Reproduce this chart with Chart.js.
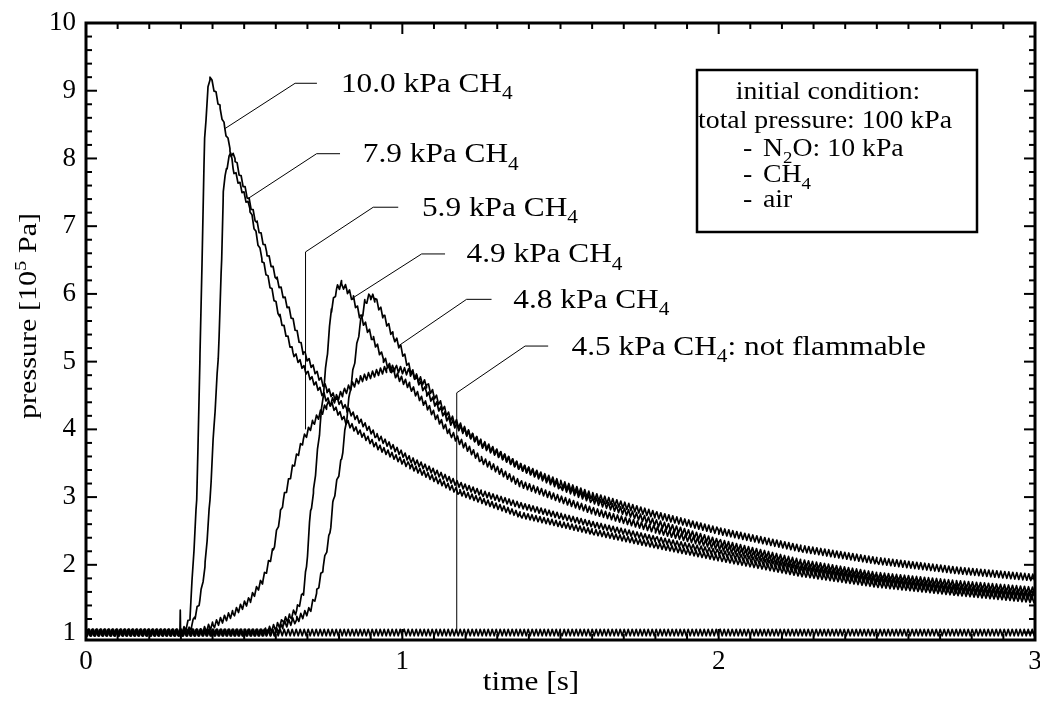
<!DOCTYPE html>
<html>
<head>
<meta charset="utf-8">
<script src="https://cdn.jsdelivr.net/npm/chart.js@4.4.1/dist/chart.umd.min.js"></script>
<style>
  html, body { margin: 0; padding: 0; background: #fff; }
</style>
</head>
<body>
<canvas id="pChart" width="1040" height="702"></canvas>
<script>
// pressure traces of N2O / CH4 / air mixtures, ignition near t = 0.3 s
const SERIF = '"Liberation Serif", "Times New Roman", Times, serif';
const SX = 1.16; // the original lettering is a bit wider than Times

const xTicks = [0, 1, 2, 3];
const yTicks = [1, 2, 3, 4, 5, 6, 7, 8, 9, 10];

// 10.0 kPa CH4 (spark spike at ~0.298 s)
const t100 = [0, 0.29, 0.297, 0.298, 0.299, 0.318, 0.329, 0.35, 0.36, 0.375, 0.385, 0.392, 0.408, 0.424, 0.439, 0.455, 0.465, 0.518, 0.556, 0.613, 0.654, 0.698, 0.762, 0.825, 0.92, 1.024, 1.182, 1.25, 1.372, 1.5, 1.6, 1.8, 2.0, 2.26, 2.5, 2.75, 3.0];
const p100 = [1.0, 1.0, 1.0, 1.33, 1.0, 1.08, 1.23, 2.96, 5.0, 8.3, 9.0, 9.2, 8.99, 8.74, 8.44, 8.15, 7.85, 7.26, 6.52, 5.66, 5.14, 4.84, 4.44, 4.10, 3.75, 3.46, 3.07, 2.95, 2.74, 2.6, 2.49, 2.29, 2.1, 1.87, 1.71, 1.59, 1.48];

// 7.9 kPa CH4
const t79 = [0, 0.32, 0.334, 0.344, 0.36, 0.376, 0.392, 0.404, 0.418, 0.429, 0.434, 0.444, 0.457, 0.471, 0.487, 0.513, 0.539, 0.571, 0.603, 0.645, 0.687, 0.761, 0.824, 0.919, 1.024, 1.182, 1.25, 1.372, 1.5, 1.6, 1.8, 2.0, 2.26, 2.5, 2.75, 3.0];
const p79 = [1.0, 1.0, 1.09, 1.23, 1.48, 1.97, 2.96, 4.0, 5.04, 6.52, 7.51, 7.85, 8.08, 8.0, 7.75, 7.41, 7.06, 6.62, 6.22, 5.73, 5.14, 4.59, 4.30, 3.90, 3.56, 3.18, 3.06, 2.88, 2.72, 2.6, 2.38, 2.18, 1.93, 1.76, 1.63, 1.53];

// 5.9 kPa CH4
const t59 = [0, 0.36, 0.402, 0.465, 0.518, 0.56, 0.592, 0.613, 0.624, 0.655, 0.687, 0.718, 0.761, 0.813, 0.866, 0.95, 0.977, 1.024, 1.077, 1.15, 1.25, 1.372, 1.5, 1.6, 1.8, 2.0, 2.26, 2.5, 2.75, 3.0];
const p59 = [1.0, 1.0, 1.11, 1.28, 1.48, 1.78, 2.22, 2.72, 2.96, 3.46, 3.85, 4.10, 4.35, 4.54, 4.74, 4.89, 4.90, 4.84, 4.66, 4.18, 3.78, 3.45, 3.16, 2.96, 2.62, 2.33, 2.03, 1.84, 1.72, 1.62];

// 4.9 kPa CH4
const t49 = [0, 0.56, 0.603, 0.624, 0.645, 0.666, 0.687, 0.697, 0.71, 0.719, 0.74, 0.761, 0.776, 0.792, 0.808, 0.824, 0.845, 0.866, 0.908, 0.94, 0.982, 1.024, 1.077, 1.15, 1.25, 1.372, 1.5, 1.6, 1.8, 2.0, 2.26, 2.5, 2.75, 3.0];
const p49 = [1.0, 1.0, 1.09, 1.16, 1.23, 1.33, 1.58, 1.97, 2.8, 3.06, 4.05, 5.04, 5.78, 6.07, 6.15, 6.07, 5.93, 5.68, 5.33, 5.04, 4.79, 4.64, 4.35, 3.95, 3.55, 3.2, 2.97, 2.8, 2.52, 2.27, 1.98, 1.8, 1.67, 1.57];

// 4.8 kPa CH4
const t48 = [0, 0.6, 0.623, 0.666, 0.708, 0.729, 0.75, 0.771, 0.782, 0.808, 0.834, 0.866, 0.882, 0.898, 0.913, 0.94, 0.971, 0.992, 1.024, 1.077, 1.15, 1.25, 1.372, 1.5, 1.6, 1.8, 2.0, 2.26, 2.5, 2.75, 3.0];
const p48 = [1.0, 1.0, 1.11, 1.19, 1.33, 1.58, 1.97, 2.47, 2.96, 3.56, 4.54, 5.53, 5.88, 5.97, 5.93, 5.68, 5.38, 5.23, 4.89, 4.54, 4.12, 3.8, 3.45, 3.2, 3.02, 2.74, 2.5, 2.24, 2.06, 1.92, 1.81];

// 4.5 kPa CH4, no ignition
const t45 = [0, 0.5, 1.0, 1.5, 2.0, 2.5, 3.0];
const p45 = [1.0, 1.0, 1.0, 1.0, 1.0, 1.0, 1.0];

const seriesNames = ['10.0 kPa CH4', '7.9 kPa CH4', '5.9 kPa CH4', '4.9 kPa CH4', '4.8 kPa CH4', '4.5 kPa CH4'];

function pairs(ts, ps) {
  return ts.map((t, i) => ({ x: t, y: ps[i] }));
}

const datasets = [
  { label: seriesNames[0], data: pairs(t100, p100), rippleAmp: 2.8, ripplePhase: 0 },
  { label: seriesNames[1], data: pairs(t79, p79), rippleAmp: 2.8, ripplePhase: 1.1 },
  { label: seriesNames[2], data: pairs(t59, p59), rippleAmp: 3.3, ripplePhase: 0.5 },
  { label: seriesNames[3], data: pairs(t49, p49), rippleAmp: 3.3, ripplePhase: 1.5 },
  { label: seriesNames[4], data: pairs(t48, p48), rippleAmp: 3.3, ripplePhase: 0.8 },
  { label: seriesNames[5], data: pairs(t45, p45), rippleAmp: 3.3, ripplePhase: 0.2 }
].map(d => Object.assign({ borderColor: '#000', borderWidth: 1.7, pointRadius: 0, fill: false, tension: 0 }, d));

// leader lines (data units) and their labels
const leaders = [
  { pts: [[0.439, 8.44], [0.661, 9.11], [0.730, 9.11]], at: [0.806, 9.11], text: [['10.0 kPa CH'], ['4', 'sub']] },
  { pts: [[0.513, 7.41], [0.729, 8.07], [0.803, 8.07]], at: [0.875, 8.07], text: [['7.9 kPa CH'], ['4', 'sub']] },
  { pts: [[0.694, 4.0], [0.694, 6.62], [0.908, 7.28], [0.987, 7.28]], at: [1.062, 7.28], text: [['5.9 kPa CH'], ['4', 'sub']] },
  { pts: [[0.840, 5.93], [1.061, 6.59], [1.135, 6.59]], at: [1.203, 6.59], text: [['4.9 kPa CH'], ['4', 'sub']] },
  { pts: [[0.987, 5.23], [1.203, 5.92], [1.282, 5.92]], at: [1.351, 5.92], text: [['4.8 kPa CH'], ['4', 'sub']] },
  { pts: [[1.172, 1.0], [1.172, 4.54], [1.388, 5.23], [1.461, 5.23]], at: [1.535, 5.23], text: [['4.5 kPa CH'], ['4', 'sub'], [': not flammable']] }
];

// draws text pieces with sub/superscripts, stretched horizontally by sx
function richWidth(ctx, parts, size, sx) {
  let w = 0;
  parts.forEach(p => {
    const s = p[1] ? size * 0.68 : size;
    ctx.font = s + 'px ' + SERIF;
    w += ctx.measureText(p[0]).width * sx;
  });
  return w;
}

function drawRich(ctx, parts, x, y, size, align, sx) {
  sx = sx || SX;
  let cx = align === 'center' ? x - richWidth(ctx, parts, size, sx) / 2 : x;
  ctx.textAlign = 'left';
  ctx.textBaseline = 'alphabetic';
  parts.forEach(p => {
    const s = p[1] ? size * 0.68 : size;
    let dy = 0;
    if (p[1] === 'sub') dy = size * 0.27;
    if (p[1] === 'sup') dy = -size * 0.38;
    ctx.font = s + 'px ' + SERIF;
    ctx.save();
    ctx.translate(cx, y + dy);
    ctx.scale(sx, 1);
    ctx.fillText(p[0], 0, 0);
    ctx.restore();
    cx += ctx.measureText(p[0]).width * sx;
  });
}

// strokes each trace through the points placed by the scales, with the
// fine pressure oscillation drawn as a zigzag line style
const ripplePlugin = {
  id: 'ripple',
  beforeDatasetDraw(chart, args) {
    const ds = chart.data.datasets[args.index];
    const pts = args.meta.data;
    if (!pts.length) return;
    const amp = ds.rippleAmp || 0;
    const half = 2.0;
    const ph = ds.ripplePhase || 0;
    const ctx = chart.ctx;
    const a = chart.chartArea;
    ctx.save();
    ctx.beginPath();
    ctx.rect(a.left, a.top, a.right - a.left, a.bottom - a.top);
    ctx.clip();
    ctx.beginPath();
    ctx.lineWidth = ds.borderWidth;
    ctx.strokeStyle = ds.borderColor;
    ctx.lineJoin = 'round';
    ctx.moveTo(pts[0].x, pts[0].y);
    for (let i = 0; i < pts.length - 1; i++) {
      const p0 = pts[i], p1 = pts[i + 1];
      ctx.lineTo(p0.x, p0.y);
      const k0 = Math.floor((p0.x - ph) / half) + 1;
      const k1 = Math.ceil((p1.x - ph) / half) - 1;
      for (let k = k0; k <= k1; k++) {
        const x = k * half + ph;
        const f = (x - p0.x) / (p1.x - p0.x);
        const y = p0.y + (p1.y - p0.y) * f + (k % 2 ? amp : -amp);
        ctx.lineTo(x, y);
      }
    }
    const last = pts[pts.length - 1];
    ctx.lineTo(last.x, last.y);
    ctx.stroke();
    ctx.restore();
    return false;
  }
};

const decorPlugin = {
  id: 'decor',
  afterDraw(chart) {
    const ctx = chart.ctx;
    const a = chart.chartArea;
    const xs = chart.scales.x, ys = chart.scales.y;
    const line = (x1, y1, x2, y2) => { ctx.beginPath(); ctx.moveTo(x1, y1); ctx.lineTo(x2, y2); ctx.stroke(); };

    ctx.save();
    ctx.strokeStyle = '#000';
    ctx.fillStyle = '#000';

    // inward ticks on all four sides
    ctx.lineWidth = 2;
    for (let i = 0; i <= 30; i++) {
      const px = xs.getPixelForValue(i / 10);
      const len = i % 10 === 0 ? 11 : 6;
      line(px, a.bottom, px, a.bottom - len);
      line(px, a.top, px, a.top + len);
    }
    for (let i = 0; i <= 45; i++) {
      const py = ys.getPixelForValue(1 + i * 0.2);
      const len = i % 5 === 0 ? 11 : 6;
      line(a.left, py, a.left + len, py);
      line(a.right, py, a.right - len, py);
    }

    // frame
    ctx.lineWidth = 3;
    ctx.strokeRect(a.left, a.top, a.right - a.left, a.bottom - a.top);

    // leader lines and curve labels
    ctx.lineWidth = 1;
    leaders.forEach(l => {
      ctx.beginPath();
      l.pts.forEach((p, i) => {
        const px = xs.getPixelForValue(p[0]), py = ys.getPixelForValue(p[1]);
        if (i === 0) ctx.moveTo(px, py); else ctx.lineTo(px, py);
      });
      ctx.stroke();
      drawRich(ctx, l.text, xs.getPixelForValue(l.at[0]), ys.getPixelForValue(l.at[1]) + 8.5, 27, 'left');
    });

    // box with the initial condition
    const bl = a.right - 338, br = a.right - 58, bt = a.top + 47, bb = a.top + 209;
    ctx.fillStyle = '#fff';
    ctx.fillRect(bl, bt, br - bl, bb - bt);
    ctx.fillStyle = '#000';
    ctx.lineWidth = 2.5;
    ctx.strokeRect(bl, bt, br - bl, bb - bt);
    const cx = (bl + br) / 2 - 12;
    const lf = 25.5, lsx = 1.09;
    drawRich(ctx, [['initial condition:']], cx + 3, bt + 29, lf, 'center', lsx);
    drawRich(ctx, [['total pressure: 100 kPa']], cx, bt + 58, lf, 'center', lsx);
    const dashX = bl + 46, itemX = bl + 66;
    drawRich(ctx, [['-']], dashX, bt + 86, lf, 'left', lsx);
    drawRich(ctx, [['N'], ['2', 'sub'], ['O: 10 kPa']], itemX, bt + 86, lf, 'left', lsx);
    drawRich(ctx, [['-']], dashX, bt + 112, lf, 'left', lsx);
    drawRich(ctx, [['CH'], ['4', 'sub']], itemX, bt + 112, lf, 'left', lsx);
    drawRich(ctx, [['-']], dashX, bt + 137, lf, 'left', lsx);
    drawRich(ctx, [['air']], itemX, bt + 137, lf, 'left', lsx);

    // axis titles
    drawRich(ctx, [['time [s]']], 531, 690, 27, 'center');
    ctx.save();
    ctx.translate(36, 316);
    ctx.rotate(-Math.PI / 2);
    drawRich(ctx, [['pressure [10'], ['5', 'sup'], [' Pa]']], 0, 0, 26, 'center');
    ctx.restore();

    ctx.restore();
  }
};

const tickFont = { family: SERIF, size: 27 };

function build() {
  new Chart(document.getElementById('pChart'), {
    type: 'line',
    data: { datasets: datasets },
    options: {
      responsive: false,
      animation: false,
      layout: { padding: { left: 0, right: 5, top: 23, bottom: 0 } },
      plugins: {
        legend: { display: false },
        tooltip: { enabled: false }
      },
      scales: {
        x: {
          type: 'linear',
          min: 0,
          max: 3,
          afterBuildTicks: s => { s.ticks = xTicks.map(v => ({ value: v })); },
          afterFit: s => { s.height = 62; s.paddingLeft = 0; s.paddingRight = 0; },
          grid: { display: false, drawTicks: false },
          border: { display: false },
          ticks: { font: tickFont, color: '#000', padding: 6, maxRotation: 0, autoSkip: false, callback: v => String(v) }
        },
        y: {
          type: 'linear',
          min: 0.89,
          max: 10,
          afterBuildTicks: s => { s.ticks = yTicks.map(v => ({ value: v })); },
          afterFit: s => { s.width = 86; s.paddingTop = 0; s.paddingBottom = 0; },
          grid: { display: false, drawTicks: false },
          border: { display: false },
          ticks: { font: tickFont, color: '#000', padding: 10, autoSkip: false, callback: v => String(v) }
        }
      }
    },
    plugins: [ripplePlugin, decorPlugin]
  });
}

// make sure the serif face is ready before the canvas text is drawn
const fontReady = document.fonts && document.fonts.load
  ? document.fonts.load('27px "Liberation Serif"').catch(() => null)
  : Promise.resolve();
fontReady.then(build, build);
</script>
</body>
</html>
